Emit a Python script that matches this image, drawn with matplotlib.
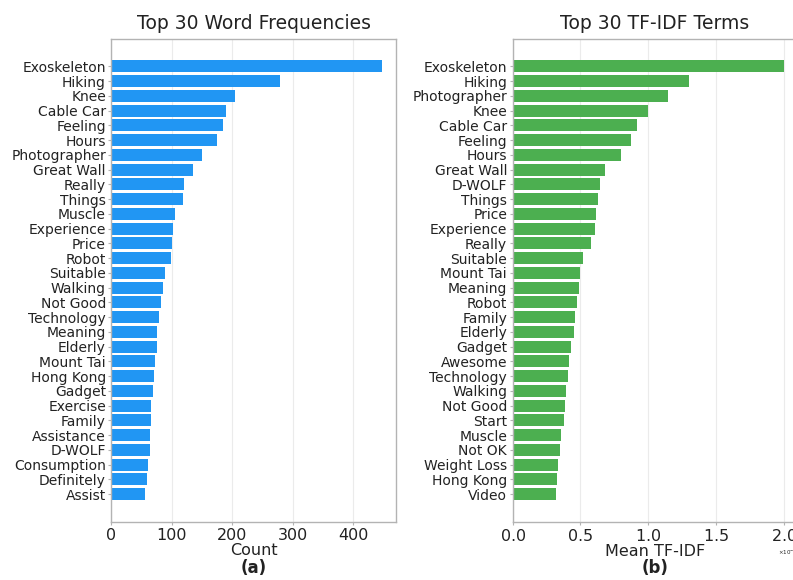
import matplotlib
matplotlib.use("Agg")
import matplotlib.pyplot as plt

# --- word counts ---
word_terms = ["Exoskeleton", "Hiking", "Knee", "Cable Car", "Feeling", "Hours",
              "Photographer", "Great Wall", "Really", "Things", "Muscle",
              "Experience", "Price", "Robot", "Suitable", "Walking", "Not Good",
              "Technology", "Meaning", "Elderly", "Mount Tai", "Hong Kong",
              "Gadget", "Exercise", "Family", "Assistance", "D-WOLF",
              "Consumption", "Definitely", "Assist"]
word_counts = [448, 279, 204, 190, 185, 175, 150, 135, 120, 118, 105, 102,
               100, 98, 88, 85, 82, 78, 76, 75, 72, 70, 68, 66, 65, 64, 63,
               61, 58, 56]

# --- mean tf-idf ---
tfidf_terms = ["Exoskeleton", "Hiking", "Photographer", "Knee", "Cable Car",
               "Feeling", "Hours", "Great Wall", "D-WOLF", "Things", "Price",
               "Experience", "Really", "Suitable", "Mount Tai", "Meaning",
               "Robot", "Family", "Elderly", "Gadget", "Awesome", "Technology",
               "Walking", "Not Good", "Start", "Muscle", "Not OK",
               "Weight Loss", "Hong Kong", "Video"]
tfidf_scores = [0.2000, 0.1298, 0.1150, 0.1000, 0.0918, 0.0877, 0.0796,
                0.0678, 0.0648, 0.0628, 0.0618, 0.0608, 0.0576, 0.0518,
                0.0498, 0.0488, 0.0478, 0.0458, 0.0449, 0.0429, 0.0419,
                0.0409, 0.0397, 0.0387, 0.0377, 0.0357, 0.0347, 0.0337,
                0.0328, 0.0318]

TEXT = "#222222"
SPINE = "#b3b3b3"


def style_axes(ax):
    for s in ax.spines.values():
        s.set_color(SPINE)
        s.set_linewidth(1.0)
    ax.grid(axis="x", color="#ebebeb", linewidth=0.8)
    ax.set_axisbelow(True)
    ax.tick_params(axis="y", labelsize=10, colors=SPINE, labelcolor=TEXT,
                   length=2.5, pad=1.5)
    ax.tick_params(axis="x", labelsize=11.5, colors=SPINE, labelcolor=TEXT,
                   length=2.5, pad=1.5)
    ax.invert_yaxis()


fig = plt.figure(figsize=(7.93, 5.80), dpi=100)
ax1 = fig.add_axes([0.1406, 0.1, 0.3588, 0.8336])
ax2 = fig.add_axes([0.6465, 0.1, 0.3588, 0.8336])

ax1.barh(word_terms, word_counts, color="#2196F3", height=0.8)
style_axes(ax1)
ax1.set_title("Top 30 Word Frequencies", fontsize=13.5, color=TEXT, pad=7)
ax1.set_xlabel("Count", fontsize=11.5, color=TEXT, labelpad=0)
ax1.text(0.5, -0.095, "(a)", transform=ax1.transAxes, ha="center", va="center",
         fontsize=12, fontweight="bold", color=TEXT)

ax2.barh(tfidf_terms, tfidf_scores, color="#4CAF50", height=0.8)
style_axes(ax2)
ax2.ticklabel_format(axis="x", style="sci", scilimits=(0, 0), useMathText=True)
ax2.xaxis.get_offset_text().set_fontsize(4)
ax2.xaxis.get_offset_text().set_color(TEXT)
ax2.set_title("Top 30 TF-IDF Terms", fontsize=13.5, color=TEXT, pad=7)
ax2.set_xlabel("Mean TF-IDF", fontsize=11.5, color=TEXT, labelpad=0)
ax2.text(0.5, -0.095, "(b)", transform=ax2.transAxes, ha="center", va="center",
         fontsize=12, fontweight="bold", color=TEXT)

fig.savefig("out.png", dpi=100)
